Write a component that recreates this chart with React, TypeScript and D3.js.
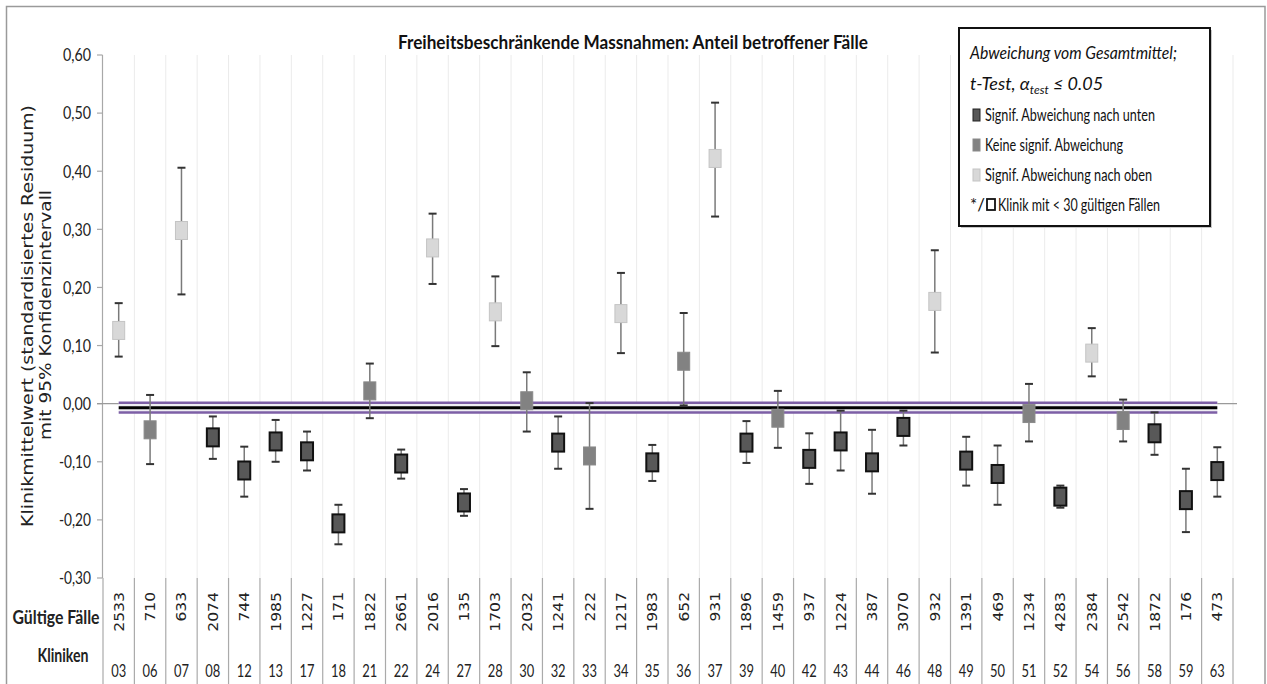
import React from "react";
import * as d3 from "d3";

const TITLE = "Freiheitsbeschränkende Massnahmen: Anteil betroffener Fälle";
const Y_LABEL_1 = "Klinikmittelwert (standardisiertes Residuum)";
const Y_LABEL_2 = "mit 95% Konfidenzintervall";

const clinics = ["03","06","07","08","12","13","17","18","21","22","24","27","28","30","32","33","34","35","36","37","39","40","42","43","44","46","48","49","50","51","52","54","56","58","59","63"];
const cases = [2533,710,633,2074,744,1985,1227,171,1822,2661,2016,135,1703,2032,1241,222,1217,1983,652,931,1896,1459,937,1224,387,3070,932,1391,469,1234,4283,2384,2542,1872,176,473];
const means = [0.126,-0.045,0.298,-0.058,-0.115,-0.065,-0.082,-0.206,0.022,-0.103,0.268,-0.170,0.158,0.005,-0.067,-0.090,0.155,-0.101,0.073,0.422,-0.067,-0.025,-0.095,-0.065,-0.101,-0.040,0.176,-0.098,-0.121,-0.017,-0.160,0.087,-0.029,-0.051,-0.166,-0.116];
const upper = [0.173,0.015,0.406,-0.022,-0.074,-0.028,-0.048,-0.174,0.069,-0.079,0.327,-0.147,0.219,0.054,-0.022,0.001,0.225,-0.071,0.156,0.518,-0.030,0.022,-0.051,-0.012,-0.045,-0.012,0.264,-0.057,-0.072,0.034,-0.141,0.130,0.007,-0.015,-0.112,-0.075];
const lower = [0.081,-0.104,0.188,-0.095,-0.160,-0.100,-0.115,-0.242,-0.025,-0.129,0.206,-0.193,0.099,-0.048,-0.112,-0.181,0.087,-0.133,-0.003,0.322,-0.102,-0.076,-0.138,-0.115,-0.155,-0.072,0.088,-0.141,-0.174,-0.065,-0.179,0.047,-0.065,-0.088,-0.221,-0.160];
// d = signif. below, n = not signif., u = signif. above
const signif = ["u","n","u","d","d","d","d","d","n","d","u","d","u","n","d","n","u","d","n","u","d","n","d","d","d","d","u","d","d","n","d","u","n","d","d","d"];

const grandMean = -0.007;
const grandUpper = 0.0015;
const grandLower = -0.015;

const yTicks = [-0.3,-0.2,-0.1,0,0.1,0.2,0.3,0.4,0.5,0.6];

const legendItems = [
  { key: "d", label: "Signif. Abweichung nach unten" },
  { key: "n", label: "Keine signif. Abweichung" },
  { key: "u", label: "Signif. Abweichung nach oben" },
];

const styleFor: Record<string, { fill: string; stroke: string; sw: number }> = {
  d: { fill: "#585858", stroke: "#111", sw: 2 },
  n: { fill: "#828282", stroke: "#8a8a8a", sw: 1 },
  u: { fill: "#d8d8d8", stroke: "#c4c4c4", sw: 1 },
};

const W = 1267;
const H = 684;

export default function App() {
  const x = d3.scaleBand<string>().domain(clinics).range([103, 1233]).paddingInner(0).paddingOuter(0);
  const y = d3.scaleLinear().domain([-0.3, 0.6]).range([578, 55]);
  const bw = x.bandwidth();
  const cx = (c: string) => (x(c) as number) + bw / 2;
  const loc = d3.formatLocale({ decimal: ",", thousands: ".", grouping: [3], currency: ["", ""], minus: "-" });
  const fmt = loc.format(".2f");
  const boundaries = clinics.map((c) => x(c) as number).concat([1233]);
  const font = "Lato, 'Open Sans', sans-serif";
  const numFont = "'DejaVu Sans', Verdana, sans-serif";

  const firstX = cx(clinics[0]);
  const lastX = cx(clinics[clinics.length - 1]);

  return (
    <svg width={W} height={H} style={{ position: "absolute", left: 0, top: 0, background: "#fff" }}>
      <rect x={0} y={0} width={W} height={H} fill="#fff" />
      <rect x={6.5} y={6.5} width={1258.5} height={H + 10} fill="none" stroke="#9a9a9a" strokeWidth={1.5} />

      {boundaries.slice(1).map((bx, i) => (
        <line key={"g" + i} x1={bx} x2={bx} y1={55} y2={578} stroke="#ebebeb" strokeWidth={1} />
      ))}
      {boundaries.map((bx, i) => (
        <line key={"s" + i} x1={bx} x2={bx} y1={578} y2={H} stroke="#aaaaaa" strokeWidth={1.2} />
      ))}

      <line x1={102.5} x2={102.5} y1={y(0.6)} y2={y(-0.3)} stroke="#a8a8a8" strokeWidth={1.2} />
      {yTicks.map((t) => {
        const s = fmt(t);
        return (
          <g key={"t" + t}>
            <line x1={97} x2={102.5} y1={y(t)} y2={y(t)} stroke="#a8a8a8" strokeWidth={1.2} />
            <text x={91} y={y(t)} dy="0.36em" textAnchor="end" fontFamily={font} fontSize={17.5} fill="#222" textLength={s.length === 5 ? 32 : 28} lengthAdjust="spacingAndGlyphs">
              {s}
            </text>
          </g>
        );
      })}
      <line x1={97} x2={1237} y1={y(0)} y2={y(0)} stroke="#9a9a9a" strokeWidth={1.2} />

      <rect x={firstX} y={y(grandUpper)} width={lastX - firstX} height={y(grandLower) - y(grandUpper)} fill="#eeedf2" />
      <line x1={firstX} x2={lastX} y1={y(grandUpper)} y2={y(grandUpper)} stroke="#7d5fa6" strokeWidth={2.5} />
      <line x1={firstX} x2={lastX} y1={y(grandLower)} y2={y(grandLower)} stroke="#7d5fa6" strokeWidth={2.5} />
      <line x1={firstX} x2={lastX} y1={y(grandMean)} y2={y(grandMean)} stroke="#000" strokeWidth={3} />

      {clinics.map((c, i) => {
        const px = cx(c);
        const st = styleFor[signif[i]];
        return (
          <g key={"p" + c}>
            <line x1={px} x2={px} y1={y(upper[i])} y2={y(lower[i])} stroke="#7a7a7a" strokeWidth={1.5} />
            <line x1={px - 4} x2={px + 4} y1={y(upper[i])} y2={y(upper[i])} stroke="#333" strokeWidth={2} />
            <line x1={px - 4} x2={px + 4} y1={y(lower[i])} y2={y(lower[i])} stroke="#333" strokeWidth={2} />
            <rect x={px - 6} y={y(means[i]) - 9} width={12} height={18} fill={st.fill} stroke={st.stroke} strokeWidth={st.sw} />
          </g>
        );
      })}

      <text x={633} y={49} textAnchor="middle" fontFamily={font} fontWeight="bold" fontSize={19} fill="#111" textLength={470} lengthAdjust="spacingAndGlyphs">
        {TITLE}
      </text>

      <text transform={`translate(28,316) rotate(-90)`} textAnchor="middle" dominantBaseline="central" fontFamily={numFont} fontSize={15} fill="#222" textLength={422} lengthAdjust="spacingAndGlyphs">
        {Y_LABEL_1}
      </text>
      <text transform={`translate(46,315) rotate(-90)`} textAnchor="middle" dominantBaseline="central" fontFamily={numFont} fontSize={15} fill="#222" textLength={250} lengthAdjust="spacingAndGlyphs">
        {Y_LABEL_2}
      </text>

      <rect x={961} y={30} width={251} height={198} fill="#c8c8c8" />
      <rect x={959} y={28} width={251} height={198} fill="#fff" stroke="#111" strokeWidth={2} />
      <text x={970} y={59} fontFamily={font} fontStyle="italic" fontSize={18} fill="#111" textLength={207} lengthAdjust="spacingAndGlyphs">
        Abweichung vom Gesamtmittel;
      </text>
      <text x={970} y={90} fontFamily={font} fontStyle="italic" fontSize={18} fill="#111">
        <tspan>t-Test, α</tspan>
        <tspan fontSize={12} dy={4}>test</tspan>
        <tspan dy={-4}> ≤ 0.05</tspan>
      </text>
      {legendItems.map((it, i) => {
        const st = styleFor[it.key];
        const ly = 121 + i * 30;
        return (
          <g key={"l" + it.key}>
            <rect x={973} y={ly - 12} width={7} height={12} fill={st.fill} stroke={it.key === "d" ? "#222" : st.stroke} strokeWidth={1} />
            <text x={985} y={ly} fontFamily={font} fontSize={17} fill="#111" textLength={[170, 138, 167][i]} lengthAdjust="spacingAndGlyphs">
              {it.label}
            </text>
          </g>
        );
      })}
      <text x={970} y={211} fontFamily={font} fontSize={17} fill="#111">*/</text>
      <rect x={987} y={199} width={8} height={11} fill="#fff" stroke="#111" strokeWidth={1.8} />
      <text x={998} y={211} fontFamily={font} fontSize={17} fill="#111" textLength={162} lengthAdjust="spacingAndGlyphs">
        Klinik mit &lt; 30 gültigen Fällen
      </text>

      <text x={56} y={618} dy="0.35em" textAnchor="middle" fontFamily={font} fontWeight="bold" fontSize={18} fill="#222" textLength={87} lengthAdjust="spacingAndGlyphs">
        Gültige Fälle
      </text>
      <text x={63} y={656} dy="0.35em" textAnchor="middle" fontFamily={font} fontWeight="bold" fontSize={18} fill="#222" textLength={51} lengthAdjust="spacingAndGlyphs">
        Kliniken
      </text>
      {clinics.map((c, i) => {
        const s = String(cases[i]);
        return (
          <g key={"tb" + c}>
            <text transform={`translate(${cx(c)},592) rotate(-90)`} textAnchor="end" dominantBaseline="central" fontFamily={numFont} fontSize={13.5} fill="#222" textLength={s.length * 10.2 - 1} lengthAdjust="spacingAndGlyphs">
              {s}
            </text>
            <text x={cx(c)} y={671} dy="0.35em" textAnchor="middle" fontFamily={font} fontSize={17} fill="#222" textLength={15} lengthAdjust="spacingAndGlyphs">
              {c}
            </text>
          </g>
        );
      })}
    </svg>
  );
}
